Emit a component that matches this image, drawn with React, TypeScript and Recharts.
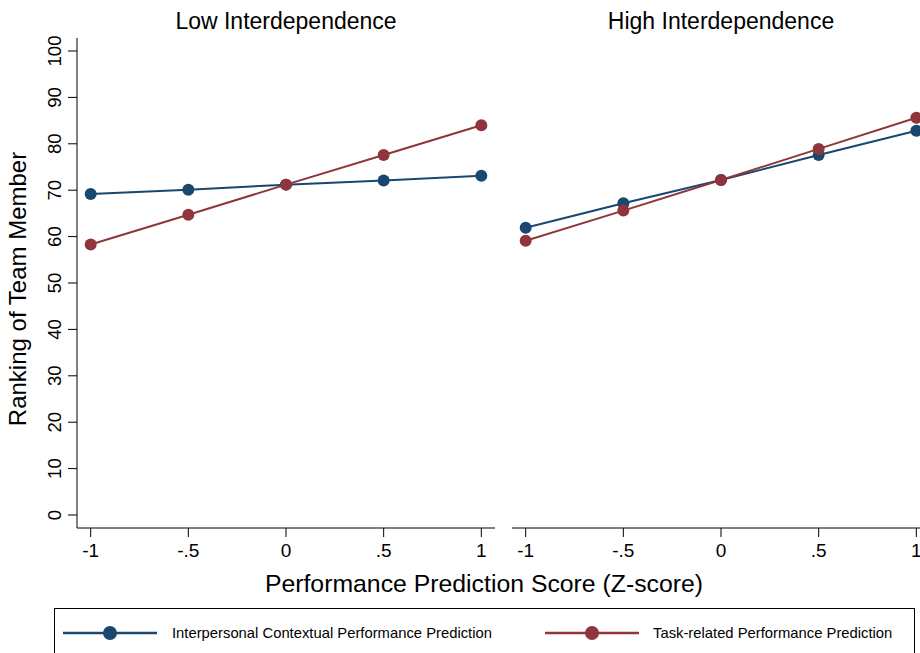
import React from "react";
import { LineChart, Line, XAxis, YAxis } from "recharts";

const X_VALUES = [-1, -0.5, 0, 0.5, 1];
const X_TICK_LABELS = ["-1", "-.5", "0", ".5", "1"];
const Y_TICKS = [0, 10, 20, 30, 40, 50, 60, 70, 80, 90, 100];

const LOW_INTERPERSONAL = [69.2, 70.1, 71.2, 72.1, 73.1];
const LOW_TASK = [58.3, 64.7, 71.2, 77.6, 84.0];
const HIGH_INTERPERSONAL = [61.9, 67.2, 72.2, 77.6, 82.8];
const HIGH_TASK = [59.1, 65.6, 72.2, 78.9, 85.6];

const BLUE = "#1a476f";
const RED = "#90353b";
const FONT = '"Liberation Sans", Arial, Helvetica, sans-serif';

const toRows = (a: number[], b: number[]) =>
    X_VALUES.map((x, i) => ({ x, interpersonal: a[i], task: b[i] }));

const lowData = toRows(LOW_INTERPERSONAL, LOW_TASK);
const highData = toRows(HIGH_INTERPERSONAL, HIGH_TASK);

const YTick = ({ x, y, payload }: any) => {
    const cx = x - 12;
    return (
        <text
            x={cx}
            y={y}
            dy="0.36em"
            textAnchor="middle"
            transform={`rotate(-90 ${cx} ${y})`}
            fontSize={18.5}
            fontFamily={FONT}
            fill="#000"
        >
            {payload.value}
        </text>
    );
};

const xLabel = (v: number) => X_TICK_LABELS[X_VALUES.indexOf(v)] ?? String(v);

function Panel({ data, showY, width, right }: { data: any[]; showY: boolean; width: number; right: number }) {
    return (
        <LineChart
            width={width}
            height={560}
            data={data}
            margin={{ top: 38, right, left: showY ? 17 : 0, bottom: 2 }}
        >
            <XAxis
                dataKey="x"
                type="number"
                domain={[-1.07, 1.07]}
                ticks={X_VALUES}
                tickFormatter={xLabel}
                height={30}
                tickSize={9}
                tickMargin={7}
                stroke="#000"
                tick={{ fontSize: 19, fill: "#000", fontFamily: FONT }}
            />
            <YAxis
                type="number"
                domain={[-2.8, 102.8]}
                ticks={Y_TICKS}
                hide={!showY}
                width={showY ? 60 : 0}
                tickSize={9}
                stroke="#000"
                tick={<YTick />}
            />
            <Line
                dataKey="interpersonal"
                stroke={BLUE}
                strokeWidth={2}
                dot={{ r: 6, fill: BLUE, stroke: "none" }}
                isAnimationActive={false}
            />
            <Line
                dataKey="task"
                stroke={RED}
                strokeWidth={2}
                dot={{ r: 6, fill: RED, stroke: "none" }}
                isAnimationActive={false}
            />
        </LineChart>
    );
}

const LegendMark = ({ color }: { color: string }) => (
    <svg width={96} height={16} style={{ display: "block" }}>
        <line x1={1} y1={8} x2={95} y2={8} stroke={color} strokeWidth={2.5} />
        <circle cx={48} cy={8} r={7} fill={color} />
    </svg>
);

export default function App() {
    const title: React.CSSProperties = {
        position: "absolute",
        top: 10,
        transform: "translateX(-50%)",
        fontSize: 23,
        lineHeight: 1,
        whiteSpace: "nowrap",
        fontFamily: FONT,
        color: "#000"
    };
    const legendText: React.CSSProperties = {
        position: "absolute",
        top: 633,
        transform: "translateY(-50%)",
        fontSize: 14.8,
        lineHeight: 1,
        whiteSpace: "nowrap",
        fontFamily: FONT,
        color: "#000"
    };

    return (
        <div
            style={{
                position: "absolute",
                left: 0,
                top: 0,
                width: 920,
                height: 653,
                overflow: "hidden",
                background: "#fff",
                fontFamily: FONT
            }}
        >
            <div style={{ position: "absolute", left: 0, top: 0 }}>
                <Panel data={lowData} showY={true} width={497} right={2} />
            </div>
            <div style={{ position: "absolute", left: 512, top: 0 }}>
                <Panel data={highData} showY={false} width={430} right={12} />
            </div>

            <div style={{ ...title, left: 286 }}>Low Interdependence</div>
            <div style={{ ...title, left: 721 }}>High Interdependence</div>

            <div
                style={{
                    position: "absolute",
                    left: 18,
                    top: 289,
                    transform: "translate(-50%, -50%) rotate(-90deg)",
                    fontSize: 24,
                    lineHeight: 1,
                    whiteSpace: "nowrap"
                }}
            >
                Ranking of Team Member
            </div>
            <div
                style={{
                    position: "absolute",
                    left: 484,
                    top: 572,
                    transform: "translateX(-50%)",
                    fontSize: 24.8,
                    lineHeight: 1,
                    whiteSpace: "nowrap"
                }}
            >
                Performance Prediction Score (Z-score)
            </div>

            <div
                style={{
                    position: "absolute",
                    left: 54,
                    top: 608,
                    width: 861,
                    height: 70,
                    border: "1.5px solid #000",
                    boxSizing: "border-box"
                }}
            />
            <div style={{ position: "absolute", left: 62, top: 625 }}>
                <LegendMark color={BLUE} />
            </div>
            <div style={{ ...legendText, left: 172 }}>Interpersonal Contextual Performance Prediction</div>
            <div style={{ position: "absolute", left: 544, top: 625 }}>
                <LegendMark color={RED} />
            </div>
            <div style={{ ...legendText, left: 653 }}>Task-related Performance Prediction</div>
        </div>
    );
}
